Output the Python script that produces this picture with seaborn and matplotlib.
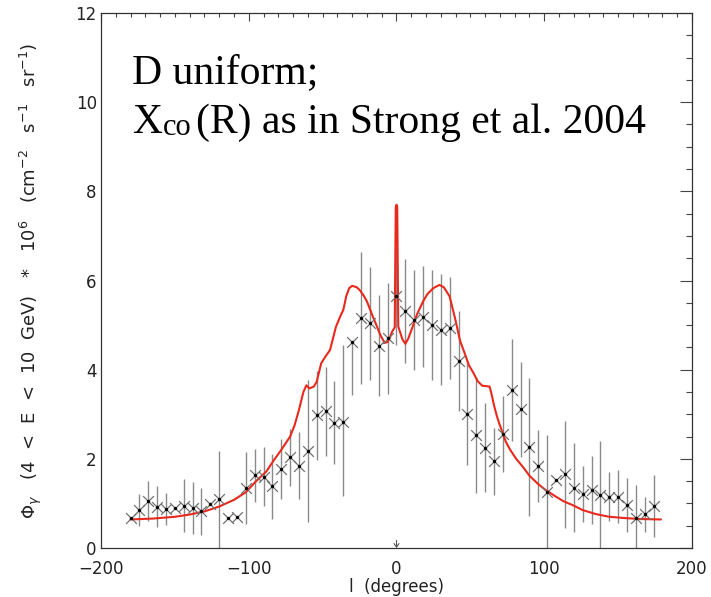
import matplotlib
matplotlib.use("Agg")
import matplotlib.pyplot as plt
from matplotlib.ticker import MultipleLocator
import pandas as pd
import seaborn as sns

# Observed longitude profile, 4 < E < 10 GeV (flux x 1e6)
longitude = [-180, -174, -168, -162, -156, -150, -144, -138, -132, -126,
             -120, -114, -108, -102, -96, -90, -84, -78, -72, -66,
             -60, -54, -48, -42, -36, -30, -24, -18, -12, -6,
             0, 6, 12, 18, 24, 30, 36, 42, 48, 54,
             60, 66, 72, 78, 84, 90, 96, 102, 108, 114,
             120, 126, 132, 138, 144, 150, 156, 162, 168, 174]
flux = [0.67, 0.85, 1.06, 0.93, 0.87, 0.89, 0.95, 0.89, 0.82, 0.99,
        1.09, 0.67, 0.70, 1.34, 1.63, 1.60, 1.38, 1.77, 2.03, 1.85,
        2.18, 2.98, 3.07, 2.81, 2.83, 4.63, 5.15, 5.04, 4.54, 4.70,
        5.65, 5.32, 5.11, 5.19, 5.00, 4.90, 4.93, 4.19, 3.00, 2.53,
        2.25, 1.95, 2.55, 3.54, 3.11, 2.27, 1.84, 1.26, 1.53, 1.65,
        1.35, 1.21, 1.30, 1.19, 1.15, 1.15, 0.96, 0.67, 0.76, 0.94]
err_low = [0.00, 0.36, 0.45, 0.45, 0.36, 0.00, 0.60, 0.58, 0.53, 0.00,
           1.09, 0.00, 0.00, 0.81, 0.60, 0.66, 0.73, 0.67, 0.65, 0.76,
           1.59, 1.00, 1.00, 0.93, 1.66, 1.20, 1.48, 1.27, 1.13, 1.25,
           1.10, 1.16, 1.12, 1.13, 1.23, 1.25, 1.15, 1.12, 1.14, 1.30,
           1.00, 0.75, 0.85, 1.15, 1.07, 1.55, 0.80, 1.26, 0.00, 1.20,
           1.00, 0.63, 0.77, 1.19, 0.55, 0.60, 0.60, 0.67, 0.39, 0.70]
err_high = [0.00, 0.36, 0.45, 0.45, 0.36, 0.00, 0.60, 0.58, 0.53, 0.00,
            1.09, 0.00, 0.00, 0.81, 0.60, 0.66, 0.73, 0.67, 0.65, 0.76,
            1.59, 1.00, 1.00, 0.93, 1.72, 0.00, 1.48, 1.27, 1.13, 1.25,
            1.10, 1.16, 1.12, 1.13, 1.23, 1.25, 1.15, 1.12, 1.14, 1.30,
            1.00, 0.75, 0.85, 1.15, 1.07, 1.55, 0.80, 1.27, 0.00, 1.20,
            1.00, 0.63, 0.77, 1.20, 0.55, 0.60, 0.60, 0.74, 0.39, 0.70]

# Model prediction (uniform diffusion, X_co(R) of Strong et al. 2004)
model_l = [-180, -165, -150, -140, -130, -120, -110, -102, -95, -88,
           -83, -78, -72, -69, -66, -63, -61, -59, -56, -54,
           -51, -48, -45, -41, -38, -36, -34, -32, -30, -27,
           -25, -22, -20, -16, -13, -11, -8, -6, -4.5, -3,
           -1.2, -0.5, 0, 0.5, 1.2, 4, 6, 8, 11, 14,
           18, 21, 25, 29, 32, 36, 40, 43, 46, 49,
           52, 55, 58, 61, 63, 64, 66, 68, 70, 72,
           74, 77, 81, 86, 90, 96, 101, 108, 113, 120,
           126, 135, 144, 155, 165, 179]
model_flux = [0.64, 0.66, 0.70, 0.75, 0.82, 0.93, 1.08, 1.25, 1.50, 1.72,
              1.97, 2.20, 2.50, 2.75, 3.10, 3.50, 3.65, 3.58, 3.62, 3.73,
              4.14, 4.30, 4.44, 4.96, 5.20, 5.34, 5.65, 5.83, 5.88, 5.85,
              5.79, 5.65, 5.53, 5.19, 4.95, 4.78, 4.60, 4.62, 4.72, 4.85,
              4.95, 7.65, 7.70, 7.65, 4.97, 4.68, 4.58, 4.70, 4.97, 5.25,
              5.53, 5.70, 5.83, 5.90, 5.85, 5.64, 5.10, 4.65, 4.38, 4.10,
              3.93, 3.74, 3.64, 3.63, 3.62, 3.50, 3.20, 2.95, 2.75, 2.57,
              2.38, 2.20, 2.00, 1.80, 1.62, 1.43, 1.30, 1.15, 1.05, 0.95,
              0.85, 0.76, 0.70, 0.67, 0.65, 0.64]

x_ticks = [-200, -100, 0, 100, 200]
y_ticks = [0, 2, 4, 6, 8, 10, 12]

obs = pd.DataFrame({"l": longitude, "flux": flux})
model = pd.DataFrame({"l": model_l, "flux": model_flux})

sns.set_style("white")
plt.rcParams["font.family"] = ["DejaVu Sans"]

fig = plt.figure(figsize=(7.11, 5.97), dpi=100)
ax = fig.add_axes([101 / 711, 49 / 597, 591 / 711, 535 / 597])

# error bars
ax.errorbar(longitude, flux, yerr=[err_low, err_high], fmt="none",
            ecolor="#8a8a8a", elinewidth=1.0, capsize=0, zorder=2)

# model curve
sns.lineplot(data=model, x="l", y="flux", ax=ax, color="#e8291c",
             linewidth=1.5, estimator=None, sort=False, zorder=3)

# data crosses with dark centres
sns.scatterplot(data=obs, x="l", y="flux", ax=ax, marker="x", s=60,
                color="#707070", linewidth=0.9, zorder=4)
sns.scatterplot(data=obs, x="l", y="flux", ax=ax, marker="o", s=6,
                color="black", linewidth=0, zorder=5)

# upper-limit arrow at the Galactic centre
ax.annotate("", xy=(0, 0.0), xytext=(0, 0.17),
            arrowprops=dict(arrowstyle="->,head_length=0.25,head_width=0.18",
                            color="#555555", lw=0.8, shrinkA=0, shrinkB=0))

ax.set_xlim(-200, 200)
ax.set_ylim(0, 12)
ax.set_xticks(x_ticks)
ax.set_yticks(y_ticks)
ax.xaxis.set_minor_locator(MultipleLocator(10))
ax.yaxis.set_minor_locator(MultipleLocator(0.5))
ax.tick_params(which="both", direction="in", top=True, right=True,
               color="#444444", width=0.8, labelsize=12, labelcolor="#222222")
ax.tick_params(axis="x", which="major", length=6, pad=8.5)
ax.tick_params(axis="x", which="minor", length=2.6)
ax.tick_params(axis="y", which="major", length=8.6, pad=3)
ax.tick_params(axis="y", which="minor", length=4.3)
for s in ax.spines.values():
    s.set_color("#333333")
    s.set_linewidth(0.9)

ax.set_xlabel("l  (degrees)", fontsize=12, color="#222222")
ax.xaxis.set_label_coords(0.5, -0.056)
ax.set_ylabel(r"$\Phi_\gamma$   (4  <  E  <  10  GeV)   *   10$^6$   (cm$^{-2}$   s$^{-1}$   sr$^{-1}$)",
              fontsize=13, color="#222222")
ax.yaxis.set_label_coords(-0.097, 0.5)

serif = ["Liberation Serif", "DejaVu Serif"]
ax.text(-178.7, 10.43, "D uniform;", family=serif, fontsize=30,
        va="baseline", ha="left", color="black")
ax.text(-178.7, 9.31, "X", family=serif, fontsize=30,
        va="baseline", ha="left", color="black")
ax.text(-158.4, 9.26, "co", family=serif, fontsize=22,
        va="baseline", ha="left", color="black")
ax.text(-135.4, 9.31, "(R) as in Strong et al. 2004", family=serif,
        fontsize=30, va="baseline", ha="left", color="black")

fig.savefig("out.png", dpi=100)
